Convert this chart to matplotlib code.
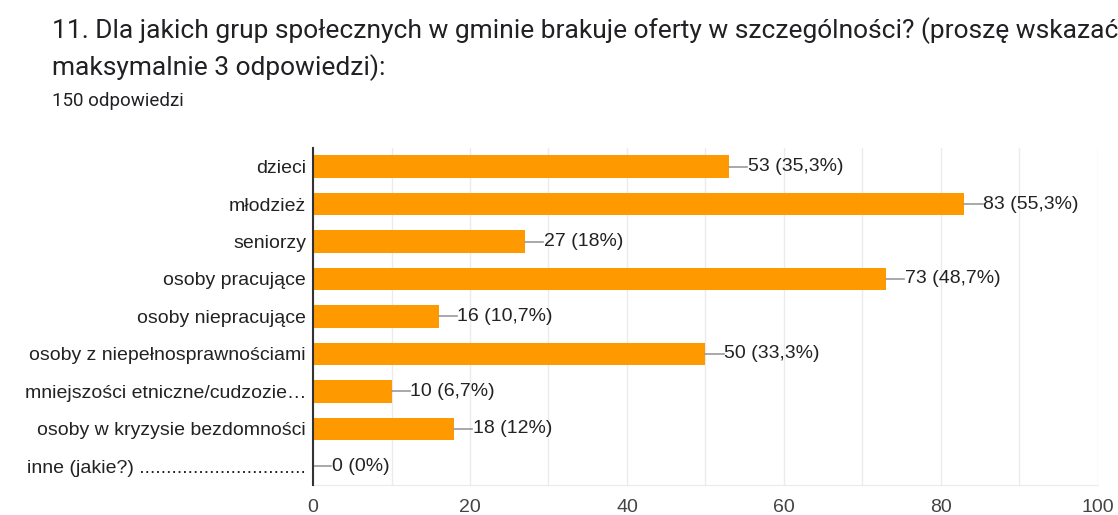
import matplotlib.pyplot as plt
from matplotlib.ticker import MultipleLocator

categories = [
    "dzieci",
    "młodzież",
    "seniorzy",
    "osoby pracujące",
    "osoby niepracujące",
    "osoby z niepełnosprawnościami",
    "mniejszości etniczne/cudzozie…",
    "osoby w kryzysie bezdomności",
    "inne (jakie?) ...............................",
]
counts = [53, 83, 27, 73, 16, 50, 10, 18, 0]
percents = ["35,3%", "55,3%", "18%", "48,7%", "10,7%", "33,3%", "6,7%", "12%", "0%"]
xticks = [0, 20, 40, 60, 80, 100]

plt.rcParams['font.family'] = ['Liberation Sans', 'DejaVu Sans']

fig = plt.figure(figsize=(11.18, 5.15), dpi=100)
ax = fig.add_axes([0.28, 0.058, 0.702, 0.655])

y = list(range(len(categories)))
ax.barh(y, counts, height=0.6, color='#ff9900', zorder=3)

# leader lines + labels
for yi, c, p in zip(y, counts, percents):
    ax.plot([c, c + 2.3], [yi, yi], color='#999999', lw=1.2, zorder=4)
    ax.text(c + 2.4, yi, f"{c} ({p})", va='center', ha='left',
            fontsize=14, color='#222222')

ax.set_xlim(0, 100)
ax.set_ylim(8.5, -0.5)
ax.set_yticks(y)
ax.set_yticklabels(categories, fontsize=14, color='#222222')
ax.set_xticks(xticks)
ax.xaxis.set_minor_locator(MultipleLocator(10))
ax.tick_params(axis='x', which='both', length=0, labelsize=14,
               labelcolor='#444444', pad=10)
ax.tick_params(axis='y', length=0, pad=5)
ax.grid(axis='x', which='both', color='#ebebeb', lw=1, zorder=0)

for s in ['top', 'right']:
    ax.spines[s].set_visible(False)
ax.spines['bottom'].set_color('#ebebeb')
ax.spines['left'].set_color('#333333')
ax.spines['left'].set_linewidth(1.5)
ax.spines['left'].set_zorder(5)

fig.text(0.0465, 0.94, "11. Dla jakich grup społecznych w gminie brakuje oferty w szczególności? (proszę wskazać",
         fontsize=19, family=['Roboto', 'DejaVu Sans'], color='#202124', va='center')
fig.text(0.0465, 0.868, "maksymalnie 3 odpowiedzi):",
         fontsize=19, family=['Roboto', 'DejaVu Sans'], color='#202124', va='center')
fig.text(0.0465, 0.803, "150 odpowiedzi",
         fontsize=13.5, family=['Roboto', 'DejaVu Sans'], color='#202124', va='center')

fig.savefig('out.png', dpi=100)
